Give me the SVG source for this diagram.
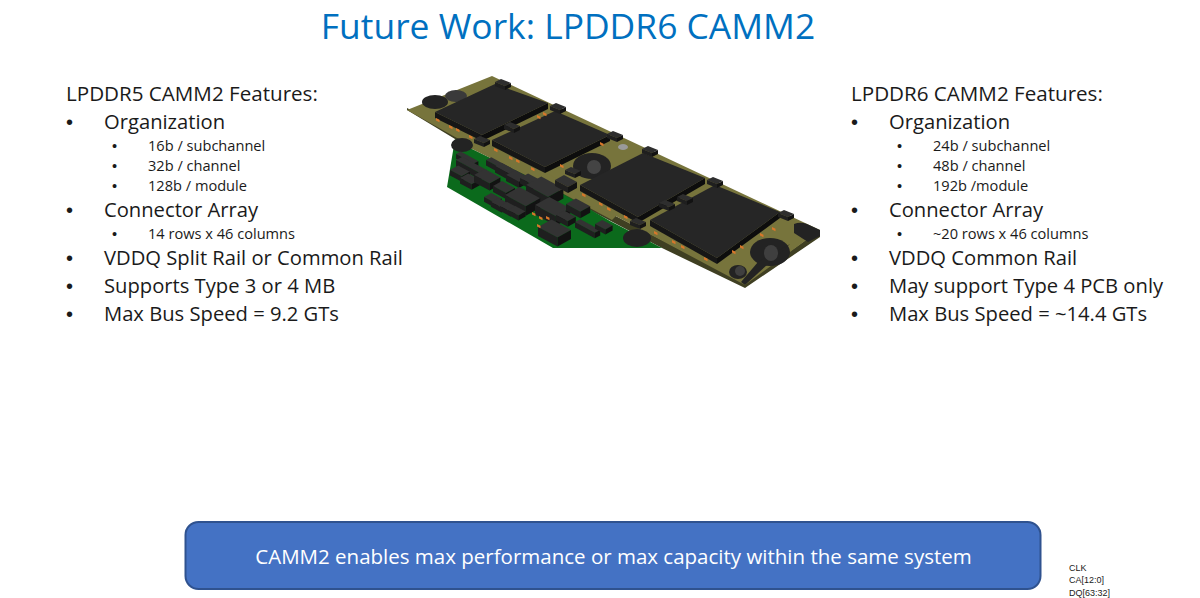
<svg xmlns="http://www.w3.org/2000/svg" width="1200" height="598" viewBox="0 0 1200 598">
<style>
text{font-family:"Open Sans","Noto Sans","Liberation Sans",sans-serif;fill:#1a1a1a}
.t{font-size:35.4px;fill:#0070c0;text-anchor:middle}
.h{font-size:20.6px}
.l1{font-size:20.2px}
.l2{font-size:14.6px}
.d1{font-size:20px;font-family:"Liberation Sans",sans-serif}
.d2{font-size:14.5px;font-family:"Liberation Sans",sans-serif}
.c{font-size:20.5px;fill:#fff;text-anchor:middle}
.n{font-size:9px;font-family:"Liberation Sans",sans-serif}
.top{fill:#262626}.sl{fill:#161616}.sr{fill:#0d0d0d}
.bt{fill:#333}.bl{fill:#1f1f1f}.br{fill:#121212}
.cap{fill:#d8772a}.hole{fill:#232323}
</style>
<defs>
<g id="box"><path class="bt" d="M0 0l9-5 13 7-9 5z"/><path class="bl" d="M0 0l13 7v6L0 6z"/><path class="br" d="M13 7l9-5v6l-9 5z"/></g>
<g id="bar"><path class="bt" d="M0 0l6-3 22 12-6 3z"/><path class="bl" d="M0 0l22 12v6L0 6z"/><path class="br" d="M22 12l6-3v6l-6 3z"/></g>
<g id="clip"><path fill="#2e2e2e" d="M0 0l6-3 10 4-6 3z"/><path class="bl" d="M0 0l10 4v4L0 4z"/><path class="br" d="M10 4l6-3v4l-6 3z"/></g>
<path id="cp" class="cap" d="M0 0l3.500 1.700v2.600l-3.500-1.700z"/>
</defs>

<text class="t" x="568" y="39">Future Work: LPDDR6 CAMM2</text>

<g id="left-features">
<text class="h" x="66" y="101">LPDDR5 CAMM2 Features:</text>
<text class="d1" x="66" y="129">•</text><text class="l1" x="104" y="129">Organization</text>
<text class="d2" x="112" y="151">•</text><text class="l2" x="148" y="151">16b / subchannel</text>
<text class="d2" x="112" y="171">•</text><text class="l2" x="148" y="171">32b / channel</text>
<text class="d2" x="112" y="191">•</text><text class="l2" x="148" y="191">128b / module</text>
<text class="d1" x="66" y="217">•</text><text class="l1" x="104" y="217">Connector Array</text>
<text class="d2" x="112" y="239">•</text><text class="l2" x="148" y="239">14 rows x 46 columns</text>
<text class="d1" x="66" y="265">•</text><text class="l1" x="104" y="265">VDDQ Split Rail or Common Rail</text>
<text class="d1" x="66" y="293">•</text><text class="l1" x="104" y="293">Supports Type 3 or 4 MB</text>
<text class="d1" x="66" y="321">•</text><text class="l1" x="104" y="321">Max Bus Speed = 9.2 GTs</text>
</g>

<g id="right-features">
<text class="h" x="851" y="101">LPDDR6 CAMM2 Features:</text>
<text class="d1" x="851" y="129">•</text><text class="l1" x="889" y="129">Organization</text>
<text class="d2" x="897" y="151">•</text><text class="l2" x="933" y="151">24b / subchannel</text>
<text class="d2" x="897" y="171">•</text><text class="l2" x="933" y="171">48b / channel</text>
<text class="d2" x="897" y="191">•</text><text class="l2" x="933" y="191">192b /module</text>
<text class="d1" x="851" y="217">•</text><text class="l1" x="889" y="217">Connector Array</text>
<text class="d2" x="897" y="239">•</text><text class="l2" x="933" y="239">~20 rows x 46 columns</text>
<text class="d1" x="851" y="265">•</text><text class="l1" x="889" y="265">VDDQ Common Rail</text>
<text class="d1" x="851" y="293">•</text><text class="l1" x="889" y="293">May support Type 4 PCB only</text>
<text class="d1" x="851" y="321">•</text><text class="l1" x="889" y="321">Max Bus Speed = ~14.4 GTs</text>
</g>

<g id="camm2-module">
<!-- board edge and surfaces -->
<path fill="#3f3f22" d="M407 110L455 139L662 248L745 288L820 237V230L745 283L407 108z"/>
<path fill="#77743c" d="M407 110L492 76L820 230L745 285L610 213L455 137z"/>
<path fill="#0b6a1c" d="M455 139L447 187L553 248H662L610 221L560 192L470 148z"/>
<path fill="#77743c" d="M470 148L560 192L612 220L620 212L540 170L480 142z"/>
<!-- mounting cutouts -->
<ellipse class="hole" cx="435" cy="102" rx="13" ry="7"/>
<ellipse cx="456" cy="96" rx="11" ry="6" fill="#3a3a3a"/>
<ellipse class="hole" cx="462" cy="145" rx="11" ry="7"/>
<ellipse class="hole" cx="592" cy="166" rx="19" ry="13"/>
<ellipse cx="594" cy="167" rx="7" ry="7" fill="#444"/>
<ellipse cx="623" cy="147" rx="5" ry="3" fill="#9a9a9a"/>
<ellipse class="hole" cx="637" cy="238" rx="14" ry="9"/>
<!-- right end cutouts -->
<ellipse class="hole" cx="770" cy="252" rx="20" ry="14"/>
<path class="hole" d="M758 262L790 244L745 285L741 282z"/>
<ellipse cx="771" cy="253" rx="7" ry="8" fill="#3f3f3f"/>
<path class="hole" d="M794 224a12 7 0 0 1 13 0l13 6v6l-12 6-14-9z"/>
<ellipse cx="738" cy="272" rx="9" ry="7" class="hole"/>
<ellipse cx="740" cy="271" rx="5" ry="5" fill="#3f3f3f"/>
<!-- memory packages -->
<g id="chips">
<path class="sl" d="M435 112v6l47 23v-6z"/><path class="sr" d="M482 135v6l66-32v-6z"/><path class="top" d="M435 112L495 84L548 103L482 135z"/>
<path class="sl" d="M492 140v6l53 27v-6z"/><path class="sr" d="M545 167v6l65-32v-6z"/><path class="top" d="M492 140L555 111L610 135L545 167z"/>
<path class="sl" d="M580 185v6l58 32v-6z"/><path class="sr" d="M638 217v6l67-39v-6z"/><path class="top" d="M580 185L643 153L705 178L638 217z"/>
<path class="sl" d="M650 220v6l67 38v-6z"/><path class="sr" d="M717 258v6l63-46v-6z"/><path class="top" d="M650 220L715 185L780 212L717 258z"/>
</g>
<!-- connectors beside the packages -->
<g id="clips">
<use href="#clip" x="495" y="82"/><use href="#clip" x="474" y="139"/><use href="#clip" x="504" y="125"/>
<use href="#clip" x="550" y="106"/><use href="#clip" x="607" y="134"/><use href="#clip" x="642" y="149"/>
<use href="#clip" x="630" y="221"/><use href="#clip" x="659" y="203"/><use href="#clip" x="707" y="180"/>
<use href="#clip" x="778" y="213"/><use href="#clip" x="677" y="197"/><use href="#clip" x="565" y="170"/>
</g>
<!-- green area parts -->
<g id="parts">
<use href="#bar" transform="translate(456 154) scale(.8)"/>
<use href="#bar" transform="translate(456 160) scale(1.1)"/>
<use href="#box" transform="translate(450 170) scale(.9)"/>
<use href="#box" transform="translate(460 178) scale(.9)"/>
<use href="#box" transform="translate(474 175) scale(1.2)"/>
<use href="#bar" transform="translate(486 160) scale(.9)"/>
<use href="#bar" transform="translate(495 166) scale(1.1)"/>
<use href="#box" transform="translate(506 175) scale(1)"/>
<use href="#box" transform="translate(493 186) scale(1)"/>
<use href="#box" transform="translate(520 178) scale(.9)"/>
<use href="#box" transform="translate(526 185) scale(1.7)"/>
<use href="#box" transform="translate(555 180) scale(1)"/>
<use href="#box" transform="translate(505 195) scale(1.6)"/>
<use href="#box" transform="translate(484 197) scale(.8)"/>
<use href="#box" transform="translate(491 202) scale(.8)"/>
<use href="#box" transform="translate(500 206) scale(.8)"/>
<use href="#box" transform="translate(508 210) scale(.8)"/>
<use href="#box" transform="translate(535 205) scale(1.6)"/>
<use href="#box" transform="translate(566 204) scale(1.1)"/>
<use href="#box" transform="translate(556 215) scale(.9)"/>
<use href="#bar" transform="translate(575 222) scale(.9)"/>
<use href="#box" transform="translate(595 224) scale(.8)"/>
<use href="#box" transform="translate(538 227) scale(1.5)"/>
</g>
<!-- small passives -->
<g id="passives">
<use href="#cp" x="436" y="118"/><use href="#cp" x="449" y="125"/><use href="#cp" x="456" y="128"/><use href="#cp" x="469" y="135"/>
<use href="#cp" x="494" y="148"/><use href="#cp" x="509" y="156"/><use href="#cp" x="516" y="159"/><use href="#cp" x="531" y="167"/>
<use href="#cp" x="582" y="193"/><use href="#cp" x="599" y="202"/><use href="#cp" x="607" y="207"/><use href="#cp" x="624" y="215"/>
<use href="#cp" x="654" y="231"/><use href="#cp" x="672" y="240"/><use href="#cp" x="681" y="245"/><use href="#cp" x="704" y="257"/>
<use href="#cp" x="532" y="212"/><use href="#cp" x="539" y="216"/><use href="#cp" x="546" y="216"/><use href="#cp" x="537" y="224"/>
<use href="#cp" x="537" y="115"/><use href="#cp" x="543" y="112"/><use href="#cp" x="600" y="142"/><use href="#cp" x="560" y="164"/>
<use href="#cp" x="760" y="233"/><use href="#cp" x="772" y="227"/><use href="#cp" x="732" y="250"/><use href="#cp" x="740" y="245"/>
</g>
</g>

<g id="callout">
<rect x="185.500" y="522" width="855" height="67" rx="13" fill="#4472c4" stroke="#2f528f" stroke-width="2"/>
<text class="c" x="613.500" y="564">CAMM2 enables max performance or max capacity within the same system</text>
</g>

<g id="signal-note">
<text class="n" x="1069" y="571">CLK</text>
<text class="n" x="1069" y="583">CA[12:0]</text>
<text class="n" x="1069" y="596">DQ[63:32]</text>
</g>
</svg>
